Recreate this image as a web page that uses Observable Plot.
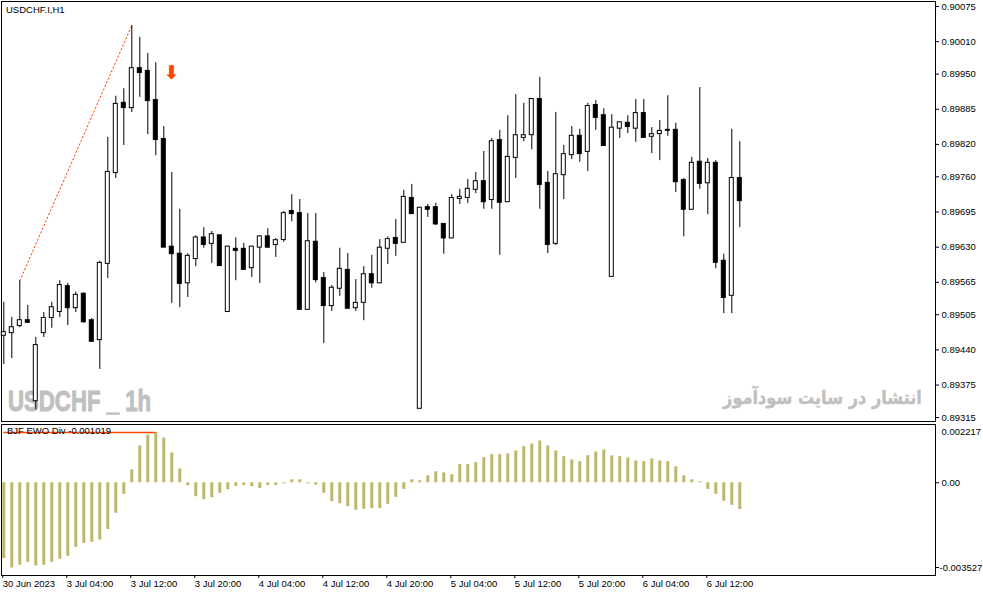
<!DOCTYPE html>
<html><head><meta charset="utf-8">
<script src="https://cdn.jsdelivr.net/npm/d3@7"></script>
<script src="https://cdn.jsdelivr.net/npm/@observablehq/plot@0.6"></script>
<style>
body{margin:0;background:#fff;}
#chart{position:relative;width:983px;height:595px;background:#fff;overflow:hidden;font-family:"Liberation Sans",Arial,sans-serif;}
#chart svg{position:absolute;left:0;z-index:1;}
.wm{position:absolute;color:#c0c0c0;font-weight:bold;white-space:nowrap;z-index:0;}
.lbl{position:absolute;font-size:9.5px;color:#000;white-space:nowrap;z-index:3;line-height:12px;}
</style></head><body><div id="chart"></div>
<script>
// ---- data (USDCHF.I, H1, bar index 0 = 30 Jun 2023 20:00) ----
const open = [0.89467,0.89472,0.89485,0.89494,0.89346,0.89472,0.89500,0.89511,0.89557,0.89518,
0.89543,0.89494,0.89459,0.89600,0.89768,0.89896,0.89888,0.89960,0.89955,0.89901,
0.89829,0.89630,0.89617,0.89564,0.89609,0.89647,0.89637,0.89651,0.89511,0.89626,
0.89626,0.89592,0.89630,0.89649,0.89635,0.89644,0.89696,0.89692,0.89515,0.89639,
0.89572,0.89522,0.89554,0.89587,0.89518,0.89528,0.89579,0.89564,0.89628,0.89646,
0.89639,0.89720,0.89332,0.89703,0.89703,0.89672,0.89647,0.89720,0.89722,0.89737,
0.89751,0.89718,0.89827,0.89714,0.89796,0.89833,0.89838,0.89903,0.89748,0.89637,
0.89764,0.89801,0.89835,0.89807,0.89892,0.89873,0.89576,0.89850,0.89859,0.89850,
0.89877,0.89835,0.89840,0.89846,0.89846,0.89753,0.89700,0.89787,0.89749,0.89785,
0.89604,0.89541,0.89757];
const high = [0.89528,0.89500,0.89568,0.89522,0.89463,0.89509,0.89528,0.89568,0.89563,0.89547,
0.89545,0.89498,0.89604,0.89833,0.89909,0.89923,0.90040,0.90018,0.89988,0.89971,
0.89853,0.89768,0.89700,0.89618,0.89651,0.89666,0.89659,0.89651,0.89631,0.89647,
0.89637,0.89631,0.89651,0.89664,0.89646,0.89696,0.89727,0.89718,0.89692,0.89692,
0.89583,0.89559,0.89628,0.89618,0.89570,0.89594,0.89615,0.89644,0.89649,0.89681,
0.89735,0.89746,0.89702,0.89709,0.89711,0.89672,0.89727,0.89737,0.89755,0.89768,
0.89807,0.89831,0.89846,0.89873,0.89912,0.89896,0.89905,0.89944,0.89770,0.89879,
0.89818,0.89853,0.89848,0.89896,0.89901,0.89886,0.89875,0.89860,0.89873,0.89903,
0.89903,0.89851,0.89864,0.89910,0.89859,0.89757,0.89796,0.89925,0.89794,0.89790,
0.89617,0.89848,0.89825];
const low = [0.89413,0.89424,0.89481,0.89489,0.89329,0.89463,0.89480,0.89500,0.89485,0.89509,
0.89489,0.89454,0.89404,0.89572,0.89757,0.89818,0.89879,0.89907,0.89838,0.89799,
0.89630,0.89526,0.89518,0.89537,0.89594,0.89628,0.89600,0.89594,0.89511,0.89568,
0.89587,0.89574,0.89563,0.89628,0.89611,0.89639,0.89677,0.89515,0.89515,0.89564,
0.89452,0.89511,0.89539,0.89517,0.89511,0.89494,0.89554,0.89563,0.89598,0.89613,
0.89639,0.89692,0.89332,0.89685,0.89670,0.89617,0.89646,0.89709,0.89711,0.89729,
0.89700,0.89700,0.89615,0.89714,0.89757,0.89825,0.89810,0.89700,0.89618,0.89633,
0.89718,0.89792,0.89787,0.89770,0.89846,0.89818,0.89576,0.89831,0.89840,0.89824,
0.89831,0.89803,0.89790,0.89835,0.89731,0.89649,0.89700,0.89737,0.89690,0.89590,
0.89507,0.89507,0.89666];
const close = [0.89472,0.89481,0.89494,0.89491,0.89448,0.89498,0.89518,0.89559,0.89518,0.89541,
0.89492,0.89456,0.89600,0.89768,0.89894,0.89888,0.89960,0.89953,0.89901,0.89829,
0.89630,0.89618,0.89563,0.89613,0.89647,0.89635,0.89653,0.89596,0.89630,0.89624,
0.89589,0.89630,0.89649,0.89630,0.89642,0.89692,0.89692,0.89515,0.89640,0.89570,
0.89522,0.89554,0.89589,0.89517,0.89526,0.89579,0.89564,0.89628,0.89644,0.89637,
0.89722,0.89692,0.89702,0.89700,0.89673,0.89647,0.89720,0.89722,0.89737,0.89751,
0.89714,0.89825,0.89713,0.89796,0.89836,0.89836,0.89903,0.89746,0.89635,0.89764,
0.89801,0.89835,0.89803,0.89890,0.89870,0.89818,0.89850,0.89860,0.89853,0.89877,
0.89833,0.89838,0.89844,0.89846,0.89751,0.89700,0.89785,0.89748,0.89785,0.89602,
0.89537,0.89757,0.89716];
// BJF EWO Div histogram
const ewo = [-0.002884,-0.003239,-0.003137,-0.003024,-0.003164,-0.003137,-0.003024,-0.002911,-0.002797,-0.002457,
-0.002306,-0.002268,-0.002181,-0.001777,-0.001160,-0.000442,0.000491,0.001399,0.001814,0.001916,
0.001701,0.001134,0.000529,-0.000113,-0.000529,-0.000643,-0.000567,-0.000404,-0.000265,-0.000140,
-0.000102,-0.000151,-0.000215,-0.000102,-0.000102,-0.000040,0.000113,0.000113,-0.000040,-0.000087,
-0.000404,-0.000718,-0.000794,-0.000907,-0.001047,-0.001009,-0.000983,-0.000983,-0.000820,-0.000556,
-0.000253,0.000113,0.000076,0.000265,0.000416,0.000378,0.000302,0.000692,0.000692,0.000767,
0.000956,0.001070,0.001070,0.001096,0.001210,0.001372,0.001474,0.001588,0.001399,0.001210,
0.000994,0.000869,0.000805,0.001032,0.001172,0.001247,0.001021,0.000994,0.000945,0.000832,
0.000805,0.000907,0.000832,0.000805,0.000605,0.000265,0.000113,0.000038,-0.000253,-0.000442,
-0.000707,-0.000858,-0.001019];
const priceTicks = [0.90075,0.90010,0.89950,0.89885,0.89820,0.89760,0.89695,0.89630,0.89565,0.89505,0.89440,0.89375,0.89315];
const ewoTicks = [0.002217, 0, -0.003527];
const timeTickIdx = [0,8,16,24,32,40,48,56,64,72,80,88];
const timeLabels = ["30 Jun 2023","3 Jul 04:00","3 Jul 12:00","3 Jul 20:00","4 Jul 04:00","4 Jul 12:00","4 Jul 20:00","5 Jul 04:00","5 Jul 12:00","5 Jul 20:00","6 Jul 04:00","6 Jul 12:00"];
const trendIdx = [2, 16];        // dotted trend line between these bar highs
const arrowMark = [{i: 21, price: 0.89953}];
const divIdx = [0, 19];          // divergence line on the EWO panel

// ---- build ----
const n = open.length;
const candles = d3.range(n).map(i => ({i, open: open[i], high: high[i], low: low[i], close: close[i]}));
const ewoData = d3.range(n).map(i => ({i, v: ewo[i]}));
const xOpt = {type: "linear", domain: [0, n - 1], range: [3.3, 3.3 + 8 * (n - 1)]};
const FONT = "Liberation Sans, Arial, sans-serif";
const OR = "#ff4500";

const topPlot = Plot.plot({
  width: 983, height: 422,
  marginLeft: 1, marginRight: 48, marginTop: 1, marginBottom: 1,
  style: {background: "transparent", fontFamily: FONT, overflow: "visible"},
  x: {...xOpt, axis: null},
  y: {domain: [0.89315, 0.90075], range: [417, 6], axis: null},
  marks: [
    Plot.frame({stroke: "#000"}),
    Plot.line(trendIdx.map(k => candles[k]), {x: "i", y: "high", stroke: OR, strokeWidth: 1, strokeDasharray: "1.5,2.5"}),
    Plot.ruleX(candles, {x: "i", y1: "low", y2: "high", stroke: "#000", strokeWidth: 1}),
    Plot.rect(candles, {filter: d => d.close >= d.open, x1: d => d.i - 0.25, x2: d => d.i + 0.25, y1: "open", y2: "close",
      fill: "#fff", stroke: "#000", strokeWidth: 1, insetTop: -0.5, insetBottom: -0.5}),
    Plot.rect(candles, {filter: d => d.close < d.open, x1: d => d.i - 0.25, x2: d => d.i + 0.25, y1: "open", y2: "close",
      fill: "#000", stroke: "#000", strokeWidth: 1, insetTop: -0.5, insetBottom: -0.5}),
    Plot.text(arrowMark, {x: "i", y: "price", text: () => "⬇", fill: OR, fontSize: 19, fontWeight: "bold", fontFamily: "DejaVu Sans"}),
    Plot.axisY(priceTicks, {anchor: "right", tickSize: 3, tickPadding: 3, tickFormat: d3.format(".5f"), fontSize: 9.5, label: null})
  ]
});

const botPlot = Plot.plot({
  width: 983, height: 172,
  marginLeft: 1, marginRight: 48, marginTop: 1, marginBottom: 20,
  style: {background: "transparent", fontFamily: FONT, overflow: "visible"},
  x: {...xOpt},
  y: {domain: [ewoTicks[2], ewoTicks[0]], range: [152, 1], axis: null},
  marks: [
    Plot.frame({stroke: "#000"}),
    Plot.ruleX(ewoData, {x: "i", y1: 0, y2: "v", stroke: "#bdb76b", strokeWidth: 3}),
    Plot.ruleY([ewo[divIdx[1]]], {y: d => d, x1: divIdx[0], x2: divIdx[1], stroke: OR, strokeWidth: 1.5}),
    Plot.axisX(timeTickIdx, {anchor: "bottom", tickSize: 3, tickPadding: 2, textAnchor: "start", dx: -1,
      tickFormat: d => timeLabels[timeTickIdx.indexOf(d)], fontSize: 9.5, label: null}),
    Plot.axisY([ewoTicks[0]], {anchor: "right", tickSize: 0, tickPadding: 6, dy: 7, tickFormat: d => d.toFixed(6), fontSize: 9.5, label: null}),
    Plot.axisY([ewoTicks[1]], {anchor: "right", tickSize: 3, tickPadding: 3, tickFormat: () => "0.00", fontSize: 9.5, label: null}),
    Plot.axisY([ewoTicks[2]], {anchor: "right", tickSize: 3, tickPadding: 1, dy: -8, tickFormat: d => d.toFixed(6), fontSize: 9.5, label: null})
  ]
});

const chart = document.getElementById("chart");
topPlot.style.top = "0px";
botPlot.style.top = "423px";
chart.appendChild(topPlot);
chart.appendChild(botPlot);

function addDiv(cls, text, css) {
  const el = document.createElement("div");
  el.className = cls;
  el.textContent = text;
  Object.assign(el.style, css);
  chart.appendChild(el);
  return el;
}
addDiv("lbl", "USDCHF.I,H1", {left: "6px", top: "4px"});
addDiv("lbl", "BJF EWO Div -0.001019", {left: "7px", top: "425px"});
addDiv("wm", "USDCHF _ 1h", {left: "8px", top: "386px", fontSize: "30px", lineHeight: "30px", transform: "scaleX(0.74)", transformOrigin: "left top", fontFamily: FONT, webkitTextStroke: "1px #c0c0c0"});
addDiv("wm", "انتشار در سایت سودآموز", {right: "61px", top: "384px", fontSize: "19px", lineHeight: "26px", direction: "rtl", fontFamily: "DejaVu Sans", transform: "scaleX(0.85)", transformOrigin: "right top", webkitTextStroke: "0.4px #c0c0c0"});
</script></body></html>
